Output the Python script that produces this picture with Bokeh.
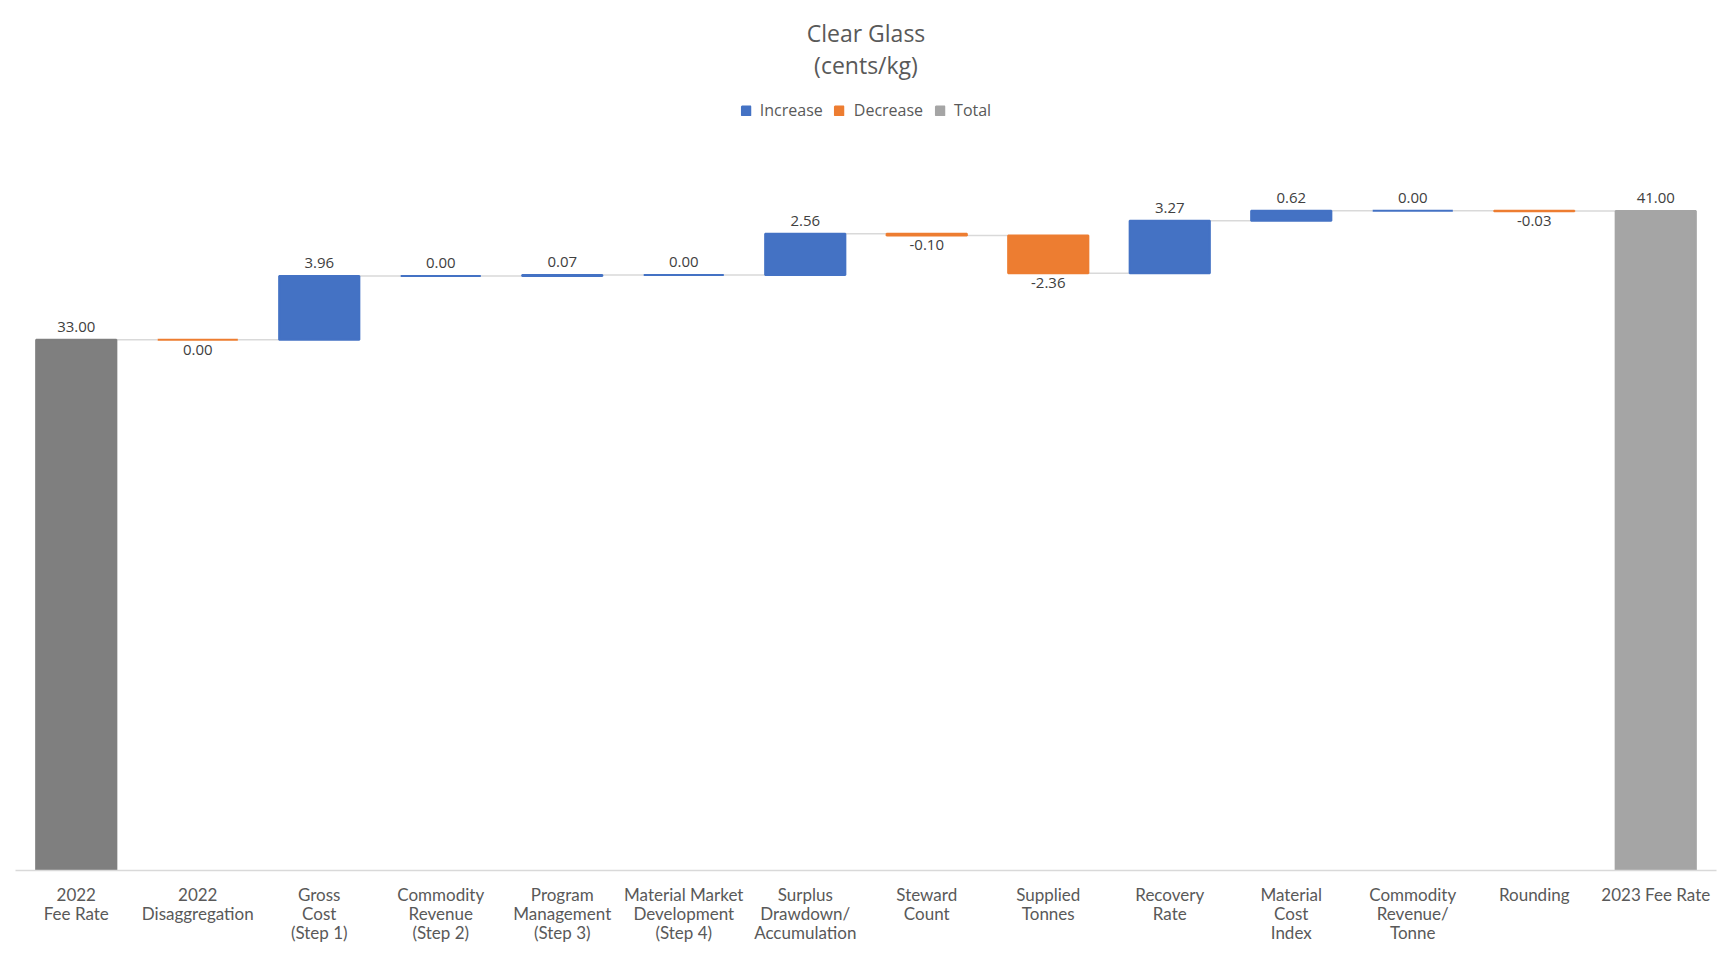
from bokeh.plotting import figure
from bokeh.models import ColumnDataSource, FactorRange, Range1d, Legend, LegendItem, Label
from bokeh.core.properties import value
from bokeh.embed import file_html
from bokeh.resources import INLINE

# ---------------- data ----------------
categories = ["2022\nFee Rate", "2022\nDisaggregation", "Gross\nCost\n(Step 1)",
              "Commodity\nRevenue\n(Step 2)", "Program\nManagement\n(Step 3)",
              "Material Market\nDevelopment\n(Step 4)", "Surplus\nDrawdown/\nAccumulation",
              "Steward\nCount", "Supplied\nTonnes", "Recovery\nRate", "Material\nCost\nIndex",
              "Commodity\nRevenue/\nTonne", "Rounding", "2023 Fee Rate"]
values = [33.00, 0.00, 3.96, 0.00, 0.07, 0.00, 2.56, -0.10, -2.36, 3.27, 0.62, 0.00, -0.03, 41.00]
kinds = ["total", "decrease", "increase", "increase", "increase", "increase", "increase",
         "decrease", "decrease", "increase", "increase", "increase", "decrease", "total"]

colors_by_kind = {"increase": "#4472C4", "decrease": "#ED7D31", "total": "#A5A5A5"}
first_total_color = "#7F7F7F"

FONT = "Open Sans"
AXFONT = "Lato"
TXT = "#595959"

# ---------------- waterfall geometry ----------------
bottoms, tops, colors, label_y, label_txt, label_base, label_off = [], [], [], [], [], [], []
running = 0.0
for i, (v, k) in enumerate(zip(values, kinds)):
    if k == "total":
        b, t = 0.0, v
        running = v
    else:
        b, t = running, running + v
        running = t
        if v < 0:
            b, t = t, b
    bottoms.append(b)
    tops.append(t)
    c = colors_by_kind[k]
    if i == 0 and k == "total":
        c = first_total_color
    colors.append(c)
    if k == "decrease":
        label_y.append(b)
        label_base.append("top")
        label_off.append(5)
    else:
        label_y.append(t)
        label_base.append("alphabetic")
        label_off.append(-13)
    label_txt.append(f"{v:.2f}")

src = ColumnDataSource(dict(x=categories, top=tops, bottom=bottoms, color=colors,
                            ly=label_y, lt=label_txt, lb=label_base, lo=label_off))

# connectors between bars (at running level after each bar)
bar_w = 0.66
cx0, cx1, cy = [], [], []
lvl = 0.0
for i, (v, k) in enumerate(zip(values, kinds)):
    lvl = v if k == "total" else lvl + v
    if i < len(values) - 1:
        cx0.append(i + 0.5 + bar_w / 2)
        cx1.append(i + 1.5 - bar_w / 2)
        cy.append(lvl if kinds[i + 1] != "total" else values[i + 1])

W, H = 1717, 950
p = figure(width=W, height=H, x_range=FactorRange(*categories), y_range=Range1d(0, 53.1),
           output_backend="svg", toolbar_location=None, y_axis_location=None,
           min_border_left=15, min_border_right=1, min_border_top=16, min_border_bottom=80)
p.outline_line_color = None
p.xgrid.grid_line_color = None
p.ygrid.grid_line_color = None
p.background_fill_color = "white"

p.segment(x0=cx0, x1=cx1, y0=cy, y1=cy, line_color="#D9D9D9", line_width=1.5)

bars = p.vbar(x="x", top="top", bottom="bottom", width=bar_w, source=src,
              fill_color="color", line_color="color", line_width=2)

p.text(x="x", y="ly", text="lt", source=src, text_align="center", text_baseline="lb",
       y_offset="lo", text_font=value(FONT), text_font_size="15px", text_color="#404040")

# x axis
ax = p.xaxis[0]
ax.axis_line_color = "#D9D9D9"
ax.axis_line_width = 1.5
ax.major_tick_line_color = None
ax.minor_tick_line_color = None
ax.major_label_text_font = AXFONT
ax.major_label_text_font_size = "17px"
ax.major_label_text_line_height = 0.92
ax.major_label_text_color = TXT
ax.major_label_standoff = 7

# title (two lines)
for txt, yy in (("Clear Glass", 52.05), ("(cents/kg)", 50.06)):
    p.add_layout(Label(x=7.0, y=yy, text=txt, text_align="center", text_baseline="middle",
                       text_font=FONT, text_font_size="23px", text_color=TXT))

# legend
legend = Legend(items=[LegendItem(label="Increase", renderers=[bars], index=2),
                       LegendItem(label="Decrease", renderers=[bars], index=1),
                       LegendItem(label="Total", renderers=[bars], index=13)],
                orientation="horizontal", location="top_center")
legend.margin = 83
legend.padding = 0
legend.spacing = 11
legend.glyph_width = 11
legend.glyph_height = 11
legend.label_height = 16
legend.label_standoff = 9
legend.label_text_font = FONT
legend.label_text_font_size = "16px"
legend.label_text_color = TXT
legend.border_line_color = None
legend.background_fill_alpha = 0
p.add_layout(legend)

open("out.html", "w").write(file_html(p, INLINE))
